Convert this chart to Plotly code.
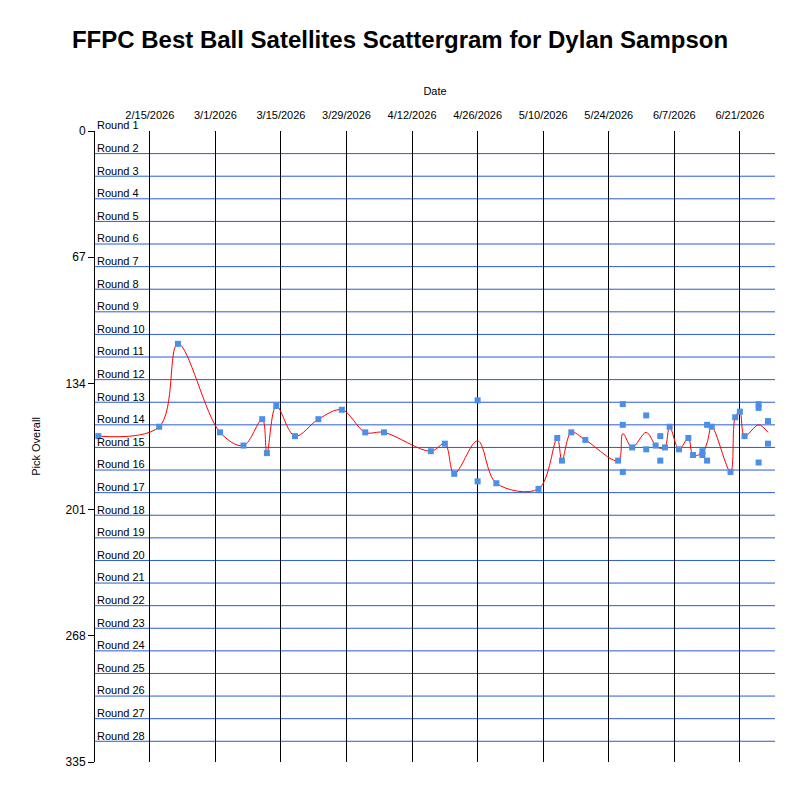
import plotly.graph_objects as go
import pandas as pd

dates = ["2026-02-04","2026-02-17","2026-02-21","2026-03-02","2026-03-07","2026-03-11","2026-03-12",
"2026-03-14","2026-03-18","2026-03-23","2026-03-28","2026-04-02","2026-04-06","2026-04-16","2026-04-19",
"2026-04-21","2026-04-26","2026-04-26","2026-04-30","2026-05-09","2026-05-13","2026-05-14","2026-05-16",
"2026-05-19","2026-05-26","2026-05-27","2026-05-27","2026-05-27","2026-05-29","2026-06-01","2026-06-01",
"2026-06-03","2026-06-04","2026-06-04","2026-06-05","2026-06-06","2026-06-08","2026-06-10","2026-06-11",
"2026-06-13","2026-06-13","2026-06-14","2026-06-14","2026-06-15","2026-06-19","2026-06-20","2026-06-21",
"2026-06-22","2026-06-25","2026-06-25","2026-06-25","2026-06-27","2026-06-27"]
picks = [162,157,113,160,167,153,171,146,162,153,148,160,160,170,166,
182,143,186,187,190,163,175,160,164,175,145,156,181,168,151,169,
167,162,175,168,157,169,163,172,170,172,156,175,157,181,152,149,
162,145,147,176,154,166]

tick_vals = ["2026-02-15","2026-03-01","2026-03-15","2026-03-29","2026-04-12","2026-04-26",
             "2026-05-10","2026-05-24","2026-06-07","2026-06-21"]
tick_text = ["2/15/2026","3/1/2026","3/15/2026","3/29/2026","4/12/2026","4/26/2026",
             "5/10/2026","5/24/2026","6/7/2026","6/21/2026"]
y_ticks = [0, 67, 134, 201, 268, 335]
n_rounds = 28
picks_per_round = 12
y_max = 335

df = pd.DataFrame({"date": pd.to_datetime(dates), "pick": picks})
avg = df.groupby("date", as_index=False)["pick"].mean()

fig = go.Figure()
fig.add_trace(go.Scatter(x=avg["date"], y=avg["pick"], mode="lines",
                         line=dict(color="red", width=1, shape="spline", smoothing=1.0),
                         hoverinfo="skip"))
fig.add_trace(go.Scatter(x=df["date"], y=df["pick"], mode="markers",
                         marker=dict(symbol="square", size=6, color="#4a90e8")))

shapes = []
for k in range(1, n_rounds + 1):
    yv = k * picks_per_round
    shapes.append(dict(type="line", xref="paper", x0=0, x1=1, yref="y", y0=yv, y1=yv,
                       line=dict(color="#2a5bd7", width=1), layer="below"))
annotations = []
for k in range(1, n_rounds + 1):
    yp = 1 - ((k - 1) * picks_per_round - 3) / y_max
    annotations.append(dict(text=f"Round {k}", xref="paper", x=0.0, xanchor="left",
                            yref="paper", y=yp, yanchor="middle", showarrow=False,
                            font=dict(size=11, color="black", family="Arial")))

fig.update_layout(
    width=800, height=800, showlegend=False,
    plot_bgcolor="white", paper_bgcolor="white",
    margin=dict(l=87, r=33, t=123, b=46, autoexpand=False),
    title=dict(text="<b>FFPC Best Ball Satellites Scattergram for Dylan Sampson</b>",
               x=0.49, y=0.96, yanchor="middle", xanchor="center", yref="container",
               font=dict(size=24, family="Arial", color="black")),
    font=dict(family="Arial", size=11, color="black"),
    shapes=shapes, annotations=annotations,
    xaxis=dict(side="top", range=["2026-02-03 07:00", "2026-06-28 12:00"], automargin=False,
               tickvals=tick_vals, ticktext=tick_text, showgrid=True, gridcolor="black",
               gridwidth=1, ticks="", zeroline=False, showline=False, ticklabelstandoff=9,
               title=dict(text="Date", font=dict(size=11), standoff=10), tickfont=dict(size=11)),
    yaxis=dict(range=[y_max, 0], tickvals=y_ticks, showgrid=False, zeroline=False, automargin=False,
               ticks="outside", ticklen=6, tickcolor="black", showline=True, linecolor="black",
               title=dict(text="Pick Overall", font=dict(size=11), standoff=22), tickfont=dict(size=12)),
)
fig.write_html("out.html")
